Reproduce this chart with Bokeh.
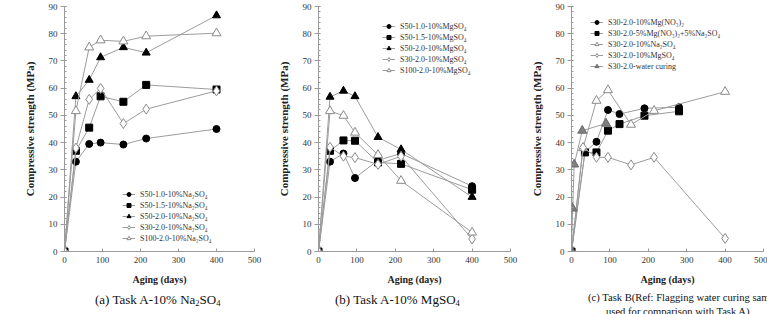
from bokeh.plotting import figure
from bokeh.layouts import row, column
from bokeh.models import Range1d, FixedTicker, Legend, LegendItem, Div
from bokeh.embed import file_html
from bokeh.resources import INLINE

FONT = "Liberation Serif"

# ---------------- data ----------------
x_ticks = [0, 100, 200, 300, 400, 500]
y_ticks = [0, 10, 20, 30, 40, 50, 60, 70, 80, 90]

# (a) Task A - 10% Na2SO4
days_a = [0, 30, 65, 95, 155, 215, 400]
a_s50_10 = [0, 33, 39.5, 40, 39.3, 41.5, 45]
a_s50_15 = [0, 37, 45.5, 57, 55, 61.2, 59.5]
a_s50_20 = [0, 57, 63, 71.3, 75, 73, 86.7]
a_s30_20 = [0, 38, 55.9, 59.9, 47, 52.3, 59]
a_s100_20 = [0, 51.6, 75, 77.6, 77.2, 79.1, 80.2]

# (b) Task A - 10% MgSO4
days_b = [0, 30, 65, 95, 155, 215, 400]
b_s50_10 = [0, 33, 36, 27, 33.5, 36, 24]
b_s50_15 = [0, 37, 40.8, 40.7, 32.7, 32.2, 22.7]
b_s50_20 = [0, 56.8, 59, 57, 42, 37.5, 20]
b_s30_20 = [0, 38.3, 35, 34.5, 32, 35, 4.6]
b_s100_20 = [0, 51.6, 49.9, 43.7, 35.5, 26, 7]

# (c) Task B
days_c_nitrate = [0, 35, 65, 95, 125, 190, 280]
c_mgno3 = [0, 36.5, 40.3, 52, 50.5, 52.6, 53]
c_mix = [0, 36.4, 36.4, 44.4, 46.8, 49.9, 51.5]
days_c_sulfate = [0, 30, 65, 95, 155, 215, 400]
c_na2so4 = [0, 38, 55.4, 59.3, 46.6, 51.7, 58.7]
c_mgso4 = [0, 38.2, 34.6, 34.6, 31.8, 34.6, 4.8]
days_c_water = [0, 3, 7, 28, 90]
c_water = [0, 15.8, 32, 44.4, 47]

labels_a = ["S50-1.0-10%Na\u2082SO\u2084", "S50-1.5-10%Na\u2082SO\u2084", "S50-2.0-10%Na\u2082SO\u2084",
            "S30-2.0-10%Na\u2082SO\u2084", "S100-2.0-10%Na\u2082SO\u2084"]
labels_b = ["S50-1.0-10%MgSO\u2084", "S50-1.5-10%MgSO\u2084", "S50-2.0-10%MgSO\u2084",
            "S30-2.0-10%MgSO\u2084", "S100-2.0-10%MgSO\u2084"]
labels_c = ["S30-2.0-10%Mg(NO\u2083)\u2082", "S30-2.0-5%Mg(NO\u2083)\u2082+5%Na\u2082SO\u2084",
            "S30-2.0-10%Na\u2082SO\u2084", "S30-2.0-10%MgSO\u2084", "S30-2.0-water curing"]

SUB = '<sub style="font-size:8.5px;line-height:0;vertical-align:-2px">{}</sub>'
caption_a = "(a) Task A-10% Na" + SUB.format("2") + "SO" + SUB.format("4")
caption_b = "(b) Task A-10% MgSO" + SUB.format("4")
caption_c1 = "(c) Task B(Ref: Flagging water curing samples"
caption_c2 = "used for comparison with Task A)"

# ---------------- styles ----------------
LINE = "#9c9c9c"
STY = {
    "fcircle": dict(marker="circle", size=7, fill_color="black", line_color="black"),
    "fsquare": dict(marker="square", size=7, fill_color="black", line_color="black"),
    "ftri": dict(marker="triangle", size=8, fill_color="black", line_color="black"),
    "odiam": dict(marker="diamond", size=10, fill_color="white", line_color="#8a8a8a"),
    "otri": dict(marker="triangle", size=9, fill_color="white", line_color="#8a8a8a"),
    "gtri": dict(marker="triangle", size=9, fill_color="#7f7f7f", line_color="#6a6a6a"),
}

FIG_H = 290


def make_panel(width, left, right, series, legend_xy):
    p = figure(width=width, height=FIG_H, output_backend="svg", toolbar_location=None,
               x_range=Range1d(0, 500), y_range=Range1d(0, 90),
               min_border_left=left, min_border_right=right,
               min_border_top=6, min_border_bottom=FIG_H - 251)
    p.outline_line_color = None
    p.grid.visible = False
    p.background_fill_color = "white"
    p.border_fill_color = "white"

    p.xaxis.ticker = FixedTicker(ticks=x_ticks)
    p.yaxis.ticker = FixedTicker(ticks=y_ticks, minor_ticks=[v for v in range(0, 91, 2)])
    for ax in (p.xaxis, p.yaxis):
        ax.axis_line_color = "#9a9a9a"
        ax.major_tick_line_color = "#9a9a9a"
        ax.minor_tick_line_color = "#9a9a9a"
        ax.major_label_text_font = FONT
        ax.major_label_text_font_size = "9px"
        ax.major_label_text_color = "#333333"
        ax.axis_label_text_font = FONT
        ax.axis_label_text_font_style = "bold"
        ax.axis_label_text_color = "#222222"
    p.xaxis.major_tick_in = 3
    p.xaxis.major_tick_out = 0
    p.xaxis.minor_tick_line_color = None
    p.xaxis.major_label_standoff = 5
    p.xaxis.axis_label = "Aging (days)"
    p.xaxis.axis_label_text_font_size = "10px"
    p.xaxis.axis_label_standoff = 8
    p.yaxis.major_tick_in = 2
    p.yaxis.major_tick_out = 4
    p.yaxis.minor_tick_in = 2
    p.yaxis.minor_tick_out = 0
    p.yaxis.major_label_standoff = 3
    p.yaxis.axis_label = "Compressive strength (MPa)"
    p.yaxis.axis_label_text_font_size = "11px"
    p.yaxis.axis_label_standoff = 10

    items = []
    for label, xs, ys, key in series:
        lr = p.line(xs, ys, line_color=LINE, line_width=1)
        sr = p.scatter(xs, ys, line_width=1, **STY[key])
        items.append(LegendItem(label=label, renderers=[lr, sr]))
    leg = Legend(items=items, location=legend_xy, padding=0, margin=0,
                 border_line_color=None, background_fill_alpha=0,
                 label_text_font=FONT, label_text_font_size="8px", label_text_color="#333333",
                 glyph_width=13, glyph_height=10, label_height=10, label_standoff=5, spacing=1)
    p.add_layout(leg)
    return p


def caption(width, html, pad_left, pad_top, size, lh):
    inner = ('<div style="font-family:\'Liberation Serif\';font-size:%spx;line-height:%dpx;'
             'color:#111;white-space:nowrap;padding-left:%dpx;padding-top:%dpx;">%s</div>'
             % (size, lh, pad_left, pad_top, html))
    return Div(text=inner, width=width, height=314 - FIG_H, margin=0,
               styles={"overflow": "hidden"})


pa = make_panel(266, 64, 12, [
    (labels_a[0], days_a, a_s50_10, "fcircle"),
    (labels_a[1], days_a, a_s50_15, "fsquare"),
    (labels_a[2], days_a, a_s50_20, "ftri"),
    (labels_a[3], days_a, a_s30_20, "odiam"),
    (labels_a[4], days_a, a_s100_20, "otri"),
], (58, 8))

pb = make_panel(254, 52, 10, [
    (labels_b[0], days_b, b_s50_10, "fcircle"),
    (labels_b[1], days_b, b_s50_15, "fsquare"),
    (labels_b[2], days_b, b_s50_20, "ftri"),
    (labels_b[3], days_b, b_s30_20, "odiam"),
    (labels_b[4], days_b, b_s100_20, "otri"),
], (64, 176))

pc = make_panel(247, 51, 4, [
    (labels_c[0], days_c_nitrate, c_mgno3, "fcircle"),
    (labels_c[1], days_c_nitrate, c_mix, "fsquare"),
    (labels_c[2], days_c_sulfate, c_na2so4, "otri"),
    (labels_c[3], days_c_sulfate, c_mgso4, "odiam"),
    (labels_c[4], days_c_water, c_water, "gtri"),
], (19, 180))

da = caption(266, caption_a, 95, 3, 13, 14)
db = caption(254, caption_b, 69, 3, 13, 14)
dc = caption(247, caption_c1 + "<br>" + '<span style="padding-left:18px">' + caption_c2 + "</span>",
             68, 1, 10.6, 14)

layout = column(row(pa, pb, pc, spacing=0), row(da, db, dc, spacing=0), spacing=0)
open("out.html", "w").write(file_html(layout, INLINE))
